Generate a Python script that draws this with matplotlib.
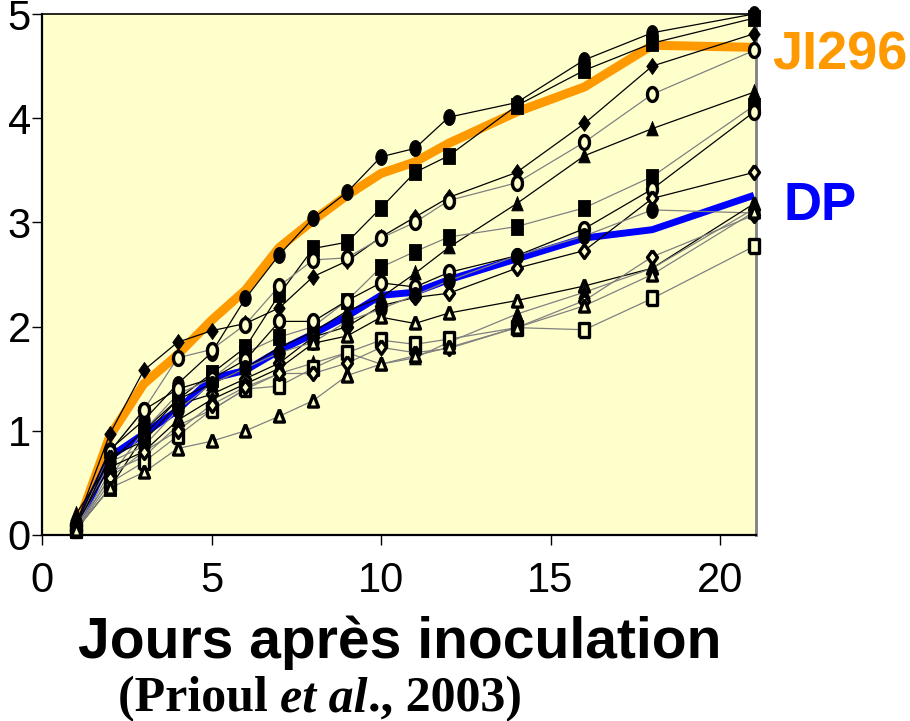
import numpy as np
import matplotlib
matplotlib.use("Agg")
import matplotlib.pyplot as plt

# days after inoculation
days = [1, 2, 3, 4, 5, 6, 7, 8, 9, 10, 11, 12, 14, 16, 18, 21]

# the two reference genotypes (thick lines)
ji296 = [0.05, 0.95, 1.45, 1.73, 2.06, 2.35, 2.76, 3.02, 3.26, 3.47, 3.58, 3.76, 4.06, 4.30, 4.70, 4.68]
dp = [0.05, 0.75, 0.97, 1.20, 1.50, 1.58, 1.77, 1.93, 2.10, 2.30, 2.33, 2.45, 2.65, 2.85, 2.93, 3.26]

# individual lines (scores)
line_a = [0.05, 0.82, 1.10, 1.45, 1.75, 2.27, 2.69, 3.04, 3.29, 3.63, 3.71, 4.01, 4.15, 4.56, 4.82, 5.00]
line_b = [0.05, 0.45, 0.95, 1.30, 1.55, 1.80, 2.31, 2.75, 2.81, 3.14, 3.48, 3.64, 4.12, 4.46, 4.72, 4.96]
line_c = [0.10, 0.97, 1.58, 1.85, 1.96, 2.03, 2.18, 2.48, 2.63, 2.86, 3.05, 3.24, 3.48, 3.95, 4.50, 4.81]
line_d = [0.05, 0.80, 1.20, 1.70, 1.78, 2.02, 2.39, 2.64, 2.66, 2.85, 3.00, 3.21, 3.38, 3.77, 4.23, 4.65]
line_e = [0.20, 0.70, 1.00, 1.30, 1.45, 1.60, 1.80, 1.95, 2.15, 2.28, 2.51, 2.76, 3.18, 3.64, 3.90, 4.25]
line_f = [0.05, 0.55, 1.00, 1.35, 1.50, 1.75, 1.90, 2.00, 2.25, 2.57, 2.72, 2.86, 2.96, 3.14, 3.44, 4.12]
line_g = [0.10, 0.80, 1.20, 1.40, 1.50, 1.68, 2.05, 2.05, 2.25, 2.42, 2.38, 2.52, 2.68, 2.94, 3.32, 4.06]
line_h = [0.05, 0.75, 0.90, 1.25, 1.35, 1.50, 1.65, 1.90, 2.00, 2.20, 2.28, 2.32, 2.56, 2.73, 3.23, 3.48]
line_i = [0.05, 0.70, 0.85, 1.20, 1.45, 1.60, 1.75, 1.85, 2.05, 2.17, 2.30, 2.44, 2.68, 2.87, 3.12, 3.09]
line_j = [0.10, 0.65, 0.80, 1.10, 1.30, 1.45, 1.60, 1.84, 1.91, 2.09, 2.03, 2.13, 2.25, 2.39, 2.56, 3.18]
line_k = [0.05, 0.60, 0.75, 1.05, 1.20, 1.40, 1.55, 1.65, 1.75, 1.64, 1.70, 1.85, 2.12, 2.33, 2.56, 3.13]
line_l = [0.05, 0.50, 0.70, 0.95, 1.20, 1.40, 1.43, 1.60, 1.75, 1.87, 1.83, 1.88, 1.99, 1.97, 2.27, 2.77]
line_m = [0.05, 0.55, 0.80, 1.00, 1.25, 1.42, 1.55, 1.55, 1.65, 1.80, 1.75, 1.79, 1.99, 2.25, 2.67, 3.07]
line_n = [0.05, 0.45, 0.60, 0.83, 0.90, 1.00, 1.14, 1.29, 1.53, 1.64, 1.72, 1.80, 1.99, 2.20, 2.50, 3.10]

YELLOW = "#FFFFCC"
ORANGE = "#FF9900"
BLUE = "#0000FF"
GREY = "#808080"

# markers are drawn a bit taller than wide in the original
W = 0.72
t = np.linspace(0, 2 * np.pi, 41)
SHAPES = {
    "o": list(zip(W * np.cos(t), np.sin(t))),
    "s": [(-W, -1), (W, -1), (W, 1), (-W, 1), (-W, -1)],
    "D": [(0, 1), (W, 0), (0, -1), (-W, 0), (0, 1)],
    "^": [(0, 1), (W, -0.8), (-W, -0.8), (0, 1)],
}

# (values, marker, filled, line colour)
series = [
    (line_a, "o", True, "k"),
    (line_b, "s", True, "k"),
    (line_c, "D", True, "k"),
    (line_d, "o", False, GREY),
    (line_e, "^", True, "k"),
    (line_f, "s", True, GREY),
    (line_g, "o", False, "k"),
    (line_h, "D", False, "k"),
    (line_i, "o", True, GREY),
    (line_j, "^", False, "k"),
    (line_k, "^", True, GREY),
    (line_l, "s", False, GREY),
    (line_m, "D", False, GREY),
    (line_n, "^", False, GREY),
]

fig = plt.figure(figsize=(9.1, 7.21), dpi=100)
ax = fig.add_axes([42 / 910, 1 - 535 / 721, (756 - 42) / 910, (535 - 14) / 721])
ax.set_facecolor(YELLOW)

ax.plot(days, ji296, color=ORANGE, lw=6.5, solid_capstyle="butt", zorder=2)
ax.plot(days, dp, color=BLUE, lw=5, solid_capstyle="butt", zorder=2)

for vals, mk, filled, col in series:
    ax.plot(days, vals, color=col, lw=0.9, zorder=3)
    if filled:
        ax.plot(days, vals, ls="none", marker=SHAPES[mk], ms=11.5, mfc="k",
                mec="k", mew=0.6, zorder=4, clip_on=False)
    else:
        ax.plot(days, vals, ls="none", marker=SHAPES[mk], ms=10, mfc=YELLOW,
                mec="k", mew=2.4, zorder=4, clip_on=False)

ax.set_xlim(0, 21.06)
ax.set_ylim(0, 5)
ax.set_xticks([0, 5, 10, 15, 20])
ax.set_yticks([0, 1, 2, 3, 4, 5])

tick_font = ["Liberation Sans", "DejaVu Sans"]
ax.tick_params(axis="both", direction="out", length=7, width=1, color="k")
ax.tick_params(axis="y", pad=1)
ax.tick_params(axis="x", pad=12)
for lab in ax.get_xticklabels() + ax.get_yticklabels():
    lab.set_family(tick_font)
    lab.set_fontsize(30)

ax.spines["left"].set_linewidth(1.6)
ax.spines["bottom"].set_linewidth(1.6)
ax.spines["top"].set_linewidth(1.2)
ax.spines["right"].set_color(GREY)
ax.spines["right"].set_linewidth(2)

ax.text(21.53, 4.6, "JI296", color=ORANGE, fontsize=39, fontweight="bold",
        family=["Liberation Sans", "DejaVu Sans"], va="center", ha="left",
        clip_on=False)
ax.text(21.86, 3.16, "DP", color=BLUE, fontsize=38, fontweight="bold",
        family=["Liberation Sans", "DejaVu Sans"], va="center", ha="left",
        clip_on=False)

fig.text(400 / 910, 1 - 643 / 721, "Jours après inoculation", fontsize=41,
         fontweight="bold", family=["Liberation Sans", "DejaVu Sans"],
         ha="center", va="center")

# citation: roman / italic / roman pieces placed side by side
serif = ["Liberation Serif", "DejaVu Serif"]
y_cit = 1 - 699 / 721
fig.canvas.draw()
x_cur = 118 / 910
for piece, sty in [("(Prioul ", "normal"), ("et al", "italic"), ("., 2003)", "normal")]:
    tx = fig.text(x_cur, y_cit, piece, fontsize=36, fontweight="bold", style=sty,
                  family=serif, ha="left", va="center")
    x_cur = tx.get_window_extent(renderer=fig.canvas.get_renderer()).x1 / 910

fig.savefig("out.png", dpi=100)
